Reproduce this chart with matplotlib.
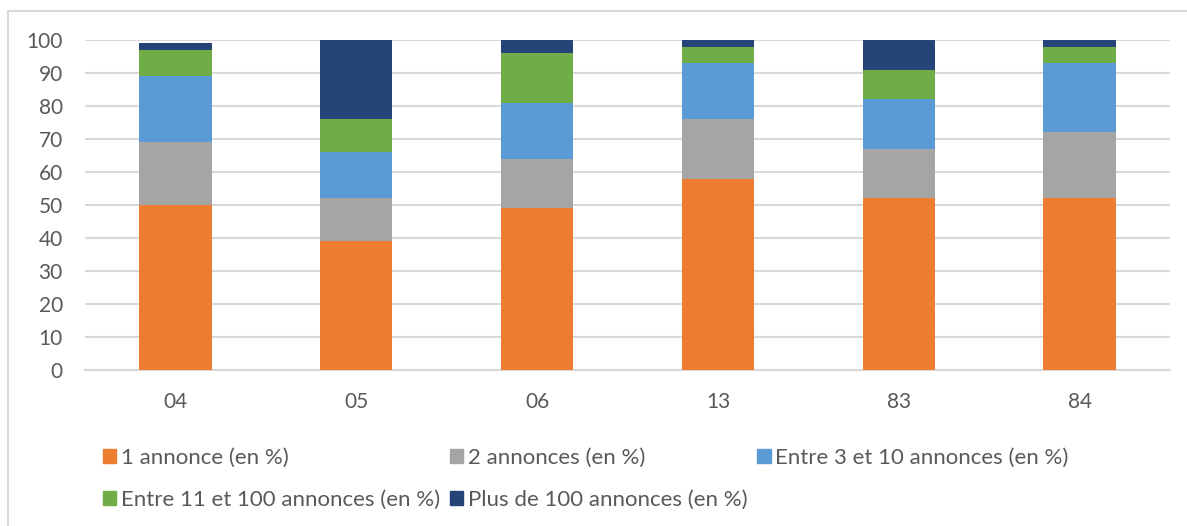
import matplotlib.pyplot as plt
import numpy as np
from matplotlib.lines import Line2D

plt.rcParams['font.family'] = ['Lato', 'DejaVu Sans']

# departements and share of sellers by number of listings
departements = ['04', '05', '06', '13', '83', '84']
une_annonce = [50, 39, 49, 58, 52, 52]
deux_annonces = [19, 13, 15, 18, 15, 20]
entre_3_10 = [20, 14, 17, 17, 15, 21]
entre_11_100 = [8, 10, 15, 5, 9, 5]
plus_100 = [2, 24, 4, 2, 9, 2]

series = [
    ('1 annonce (en %)', une_annonce, '#ED7D31'),
    ('2 annonces (en %)', deux_annonces, '#A5A5A5'),
    ('Entre 3 et 10 annonces (en %)', entre_3_10, '#5B9BD5'),
    ('Entre 11 et 100 annonces (en %)', entre_11_100, '#70AD47'),
    ('Plus de 100 annonces (en %)', plus_100, '#264478'),
]

txt = '#595959'
grid = '#D9D9D9'

fig = plt.figure(figsize=(11.87, 5.26), dpi=100)
ax = fig.add_axes([85 / 1187, 1 - 370 / 526, 1085 / 1187, 330 / 526])

x = np.arange(len(departements))
bottom = np.zeros(len(departements))
for label, vals, col in series:
    ax.bar(x, vals, width=0.4, bottom=bottom, color=col, label=label, zorder=3)
    bottom += np.array(vals)

ax.set_xlim(-0.5, 5.5)
ax.set_ylim(0, 100)
ax.set_yticks(range(0, 101, 10))
ax.set_xticks(x)
ax.set_xticklabels(departements)
ax.yaxis.grid(True, color=grid, linewidth=1.5, zorder=0)
for s in ['top', 'right', 'left']:
    ax.spines[s].set_visible(False)
ax.spines['bottom'].set_color(grid)
ax.spines['bottom'].set_linewidth(1.5)
ax.tick_params(axis='y', length=0, pad=16, labelsize=15, labelcolor=txt)
ax.tick_params(axis='x', length=0, pad=16, labelsize=15, labelcolor=txt)

# legend below the plot; matplotlib fills columns first, so reorder
# the entries to read left to right like the spreadsheet legend
order = [0, 3, 1, 4, 2]
handles = [plt.Rectangle((0, 0), 1, 1, color=series[i][2]) for i in order]
labels = [series[i][0] for i in order]
fig.legend(handles, labels, ncol=3, loc='upper left',
           bbox_to_anchor=(83 / 1187, 1 - 428 / 526), frameon=False,
           fontsize=16, labelcolor=txt, handlelength=0.6, handleheight=0.6,
           handletextpad=0.2, labelspacing=1.0, columnspacing=0.45)

# chart frame
fig.add_artist(Line2D([8 / 1187, 8 / 1187], [0, 1 - 11 / 526],
                      transform=fig.transFigure, color=grid, linewidth=1.5))
fig.add_artist(Line2D([8 / 1187, 1], [1 - 11 / 526, 1 - 11 / 526],
                      transform=fig.transFigure, color=grid, linewidth=1.5))

fig.savefig('out.png', dpi=100)
